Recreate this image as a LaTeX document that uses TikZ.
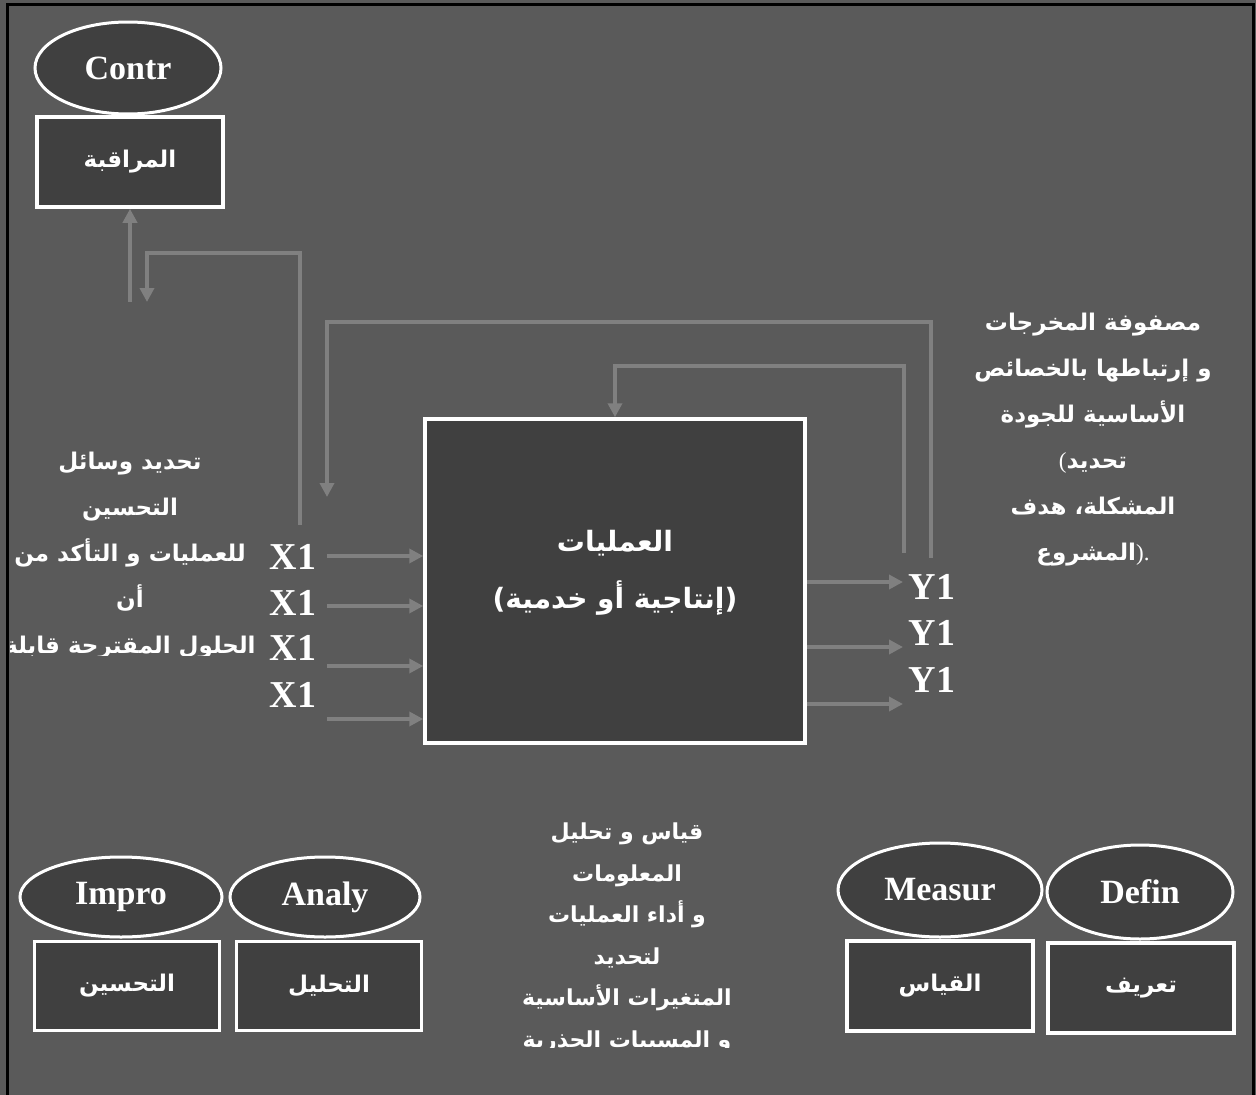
\documentclass[tikz,border=0pt]{standalone}
\usepackage{fontspec}
\setmainfont{Liberation Serif}
\newfontfamily\arabicfont[Script=Arabic]{DejaVu Sans}
\TeXXeTstate=1
\usetikzlibrary{shapes.geometric,arrows.meta}
\definecolor{canvas}{RGB}{90,90,90}
\definecolor{boxfill}{RGB}{64,64,64}
\definecolor{wire}{RGB}{128,128,128}
\newcommand\rl[1]{\beginR #1\endR}
\newcommand\latinbit[1]{\hbox{\rmfamily\mdseries #1}}

\begin{document}
\begin{tikzpicture}[x=1pt,y=-1pt,
  ell/.style={ellipse, draw=white, line width=3pt, fill=boxfill, inner sep=0pt,
    text=white, font=\bfseries\fontsize{34}{40}\selectfont},
  rbox/.style={rectangle, draw=white, line width=3.5pt, fill=boxfill, inner sep=0pt,
    text=white, font=\arabicfont\bfseries\fontsize{23}{28}\selectfont},
  para/.style={text=white, align=center, inner sep=0pt},
  var/.style={text=white, inner sep=0pt, font=\bfseries\fontsize{38}{40}\selectfont},
  wireline/.style={draw=wire, line width=4pt},
  conn/.style={wireline, -{Triangle[length=14pt,width=14pt]}}
]
% canvas and frame
\fill[canvas] (0,0) rectangle (1256,1095);
\useasboundingbox (0,0) rectangle (1256,1095);
\draw[black, line width=3pt] (7,1095) -- (7,4) -- (1253,4) -- (1253,1095);

% control stage
\node[ell, minimum width=186pt, minimum height=92pt] (contr) at (128,68) {Contr};
\node[rbox, minimum width=186pt, minimum height=90pt] (mon) at (130,162) {\rl{المراقبة}};

% process block
\node[rbox, minimum width=380pt, minimum height=324pt] (proc) at (615,581) {};
\node[para, font=\arabicfont\bfseries\fontsize{28}{57}\selectfont]
  (proctext) at (615,573) {\rl{العمليات}\\\rl{(إنتاجية أو خدمية)}};

% inputs
\foreach \i/\yy in {1/557,2/603,3/648,4/695}
  \node[var] (x\i) at (293,\yy) {X1};
\foreach \i/\yy in {1/556,2/606,3/666,4/719} {
  \coordinate (in\i) at (327,\yy);
  \draw[conn] (in\i) -- (in\i -| proc.west);
}

% outputs
\foreach \i/\yy in {1/587,2/633,3/680}
  \node[var] (y\i) at (932,\yy) {Y1};
\foreach \i/\yy in {1/582,2/647,3/704} {
  \coordinate (out\i) at (903,\yy);
  \draw[conn] (out\i -| proc.east) -- (out\i);
}

% feedback loops
\coordinate (fa) at (300,525);
\coordinate (fb) at (147,302);
\draw[conn] (fa) -- (300,253) -- (147,253) -- (fb);
\coordinate (up) at (130,302);
\draw[conn] (up) -- (mon.south);
\coordinate (ya) at (931,558);
\coordinate (xa) at (327,497);
\draw[conn] (ya) -- (931,322) -- (327,322) -- (xa);
\coordinate (yb) at (904,553);
\draw[conn] (yb) -- (904,366) -| (proc.north);

% side notes
\begin{scope}
\clip (10,420) rectangle (262,655);
\node[para, font=\arabicfont\bfseries\fontsize{23}{46}\selectfont] (notel) at (130,556)
  {\rl{تحديد وسائل}\\\rl{التحسين}\\\rl{للعمليات و التأكد من}\\\rl{أن}\\\rl{الحلول المقترحة قابلة}};
\end{scope}
\begin{scope}
\clip (960,290) rectangle (1250,567);
\node[para, font=\arabicfont\bfseries\fontsize{23}{46}\selectfont] (noter) at (1093,440)
  {\rl{مصفوفة المخرجات}\\\rl{و إرتباطها بالخصائص}\\\rl{الأساسية للجودة}\\
   \latinbit{(}\hbox{\rl{تحديد}}\\\rl{المشكلة، هدف}\\\hbox{\rl{المشروع}}\latinbit{).}};
\end{scope}
\begin{scope}
\clip (440,800) rectangle (820,1047);
\node[para, font=\arabicfont\bfseries\fontsize{22}{41.5}\selectfont] (notec) at (627,938)
  {\rl{قياس و تحليل}\\\rl{المعلومات}\\\rl{و أداء العمليات}\\\rl{لتحديد}\\\rl{المتغيرات الأساسية}\\\rl{و المسببات الجذرية}};
\end{scope}

% bottom stages
\node[ell, minimum width=202pt, minimum height=80pt] (impro) at (121,897) {Impro};
\node[ell, minimum width=190pt, minimum height=80pt] (analy) at (325,897) {Analy};
\node[rbox, minimum width=185pt, minimum height=89pt] (impr) at (127,986) {\rl{التحسين}};
\node[rbox, minimum width=185pt, minimum height=89pt] (anal) at (329,986) {\rl{التحليل}};
\node[ell, minimum width=204pt, minimum height=94pt] (measur) at (940,890) {Measur};
\node[ell, minimum width=186pt, minimum height=94pt] (defin) at (1140,892) {Defin};
\node[rbox, minimum width=186pt, minimum height=90pt] (meas) at (940,986) {\rl{القياس}};
\node[rbox, minimum width=186pt, minimum height=90pt] (def) at (1141,988) {\rl{تعريف}};
\end{tikzpicture}
\end{document}
